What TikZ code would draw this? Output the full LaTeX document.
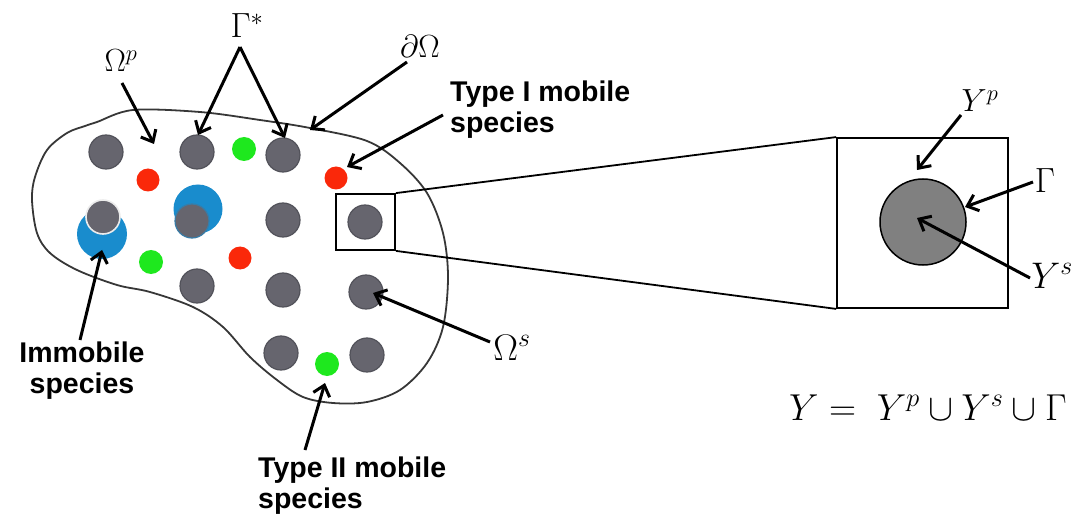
\RequirePackage{fix-cm}
\documentclass[tikz,border=0pt]{standalone}
\usepackage{fontspec}
\setsansfont{Liberation Sans}
\usetikzlibrary{arrows.meta}
\definecolor{dotgray}{RGB}{102,101,110}
\definecolor{dotedge}{RGB}{82,82,90}
\definecolor{dotred}{RGB}{250,40,10}
\definecolor{dotgreen}{RGB}{30,232,30}
\definecolor{dotblue}{RGB}{25,140,205}
\definecolor{blobline}{RGB}{55,55,55}
\definecolor{cellgray}{RGB}{128,128,128}
\begin{document}
\begin{tikzpicture}[x=1pt,y=-1pt,
  pore/.style={circle,fill=dotgray,draw=dotedge,line width=1.2pt,minimum size=34pt,inner sep=0pt},
  redsp/.style={circle,fill=dotred,minimum size=23pt,inner sep=0pt},
  greensp/.style={circle,fill=dotgreen,minimum size=24pt,inner sep=0pt},
  bluesp/.style={circle,fill=dotblue,minimum size=50pt,inner sep=0pt},
  lbl/.style={font=\sffamily\bfseries\fontsize{28.5}{31}\selectfont,inner sep=0pt},
  mlbl/.style={font=\fontsize{32}{36}\selectfont,inner sep=0pt,anchor=base},
  mbig/.style={mlbl,font=\fontsize{35}{39}\selectfont},
  mhuge/.style={mlbl,font=\fontsize{37}{41}\selectfont},
  arr/.style={line width=3pt,-{Straight Barb[length=10pt,width=17pt,line width=3pt]}},
  frame/.style={draw,line width=1.8pt,inner sep=0pt}]
\useasboundingbox (0,0) rectangle (1086,521);
% domain outline
\draw[blobline,line width=1.8pt] plot[smooth cycle,tension=0.55] coordinates {
 (97,122) (133,110) (200,112) (260,120) (310,128) (367,141) (400,163) (427,193)
 (443,233) (448,277) (443,327) (427,363) (400,390) (367,402) (333,403) (303,397)
 (277,380) (250,357) (223,327) (193,307) (150,292) (117,285) (77,270) (50,253)
 (37,233) (32,200) (35,177) (47,150) (67,133) (85,126)};
% immobile species
\node[bluesp] (b1) at (102,234) {};
\node[pore,draw=white!85!gray,line width=1.6pt] (p21) at (103,217) {};
\node[bluesp,minimum size=49pt] (b2) at (198,209) {};
\node[pore,draw=dotblue!60!dotgray] (p22) at (192,221) {};
% pores
\node[pore] (p11) at (106,152) {};
\node[pore] (p12) at (197,152) {};
\node[pore] (p13) at (283,155) {};
\node[pore] (p23) at (283,220) {};
\node[pore] (p24) at (365,222) {};
\node[pore] (p31) at (197,286) {};
\node[pore] (p32) at (283,290) {};
\node[pore] (p33) at (366,292) {};
\node[pore] (p41) at (281,353) {};
\node[pore] (p42) at (367,355) {};
% mobile species
\node[redsp] (r1) at (148,180) {};
\node[redsp] (r2) at (336,178) {};
\node[redsp] (r3) at (240,258) {};
\node[greensp] (g1) at (244,149) {};
\node[greensp] (g2) at (151,262) {};
\node[greensp] (g3) at (327,364) {};
% zoom boxes
\node[frame,minimum width=59pt,minimum height=56pt] (sbox) at (365.5,222) {};
\node[frame,minimum width=171pt,minimum height=170pt] (bbox) at (922.5,223) {};
\node[circle,fill=cellgray,draw=black,line width=1.5pt,minimum size=86pt,inner sep=0pt] (cell) at (923,222) {};
\draw[line width=1.8pt] (sbox.north east) -- (bbox.north west);
\draw[line width=1.8pt] (sbox.south east) -- (bbox.south west);
% labels
\node[mlbl] (lOp) at (121,72) {$\Omega^p$};
\node[mbig] (lGs) at (247,38) {$\Gamma^*$};
\node[mlbl] (ldO) at (420,58) {$\partial\Omega$};
\node[mhuge] (lOs) at (512,360) {$\Omega^s$};
\node[mlbl] (lYp) at (980,112) {$Y^p$};
\node[mbig] (lG) at (1045,193) {$\Gamma$};
\node[mhuge] (lYs) at (1052,288) {$Y^s$};
\node[mlbl,font=\fontsize{37.5}{42}\selectfont] (eq) at (928,420) {$Y =\; Y^p\cup Y^s\cup\Gamma$};
\node[lbl,align=left,anchor=north west] (tI) at (450,81) {Type I mobile\\species};
\node[lbl,align=center,anchor=north] (tim) at (82,342) {Immobile\\species};
\node[lbl,align=left,anchor=north west] (tII) at (258,457) {Type II mobile\\species};
% arrow ends
\coordinate (aOp) at (122,83);   \coordinate (hOp) at (154,144);
\coordinate (aGs) at (240,47);   \coordinate (hG1) at (198,135); \coordinate (hG2) at (285,138);
\coordinate (adO) at (407,62);   \coordinate (hdO) at (310,130);
\coordinate (aI) at (443,115);   \coordinate (hI) at (347,167);
\coordinate (aim) at (80,340);   \coordinate (him) at (102,250);
\coordinate (aII) at (305,450);  \coordinate (hII) at (325,383);
\coordinate (aOs) at (490,342);  \coordinate (hOs) at (373,293);
\coordinate (aYp) at (961,115);  \coordinate (hYp) at (917,170);
\coordinate (aG) at (1033,182);  \coordinate (hG) at (965,207);
\coordinate (aYs) at (1030,278); \coordinate (hYs) at (917,218);
\draw[arr] (aOp) -- (hOp);
\draw[arr] (aGs) -- (hG1);
\draw[arr] (aGs) -- (hG2);
\draw[arr] (adO) -- (hdO);
\draw[arr] (aI) -- (hI);
\draw[arr] (aim) -- (him);
\draw[arr] (aII) -- (hII);
\draw[arr] (aOs) -- (hOs);
\draw[arr] (aYp) -- (hYp);
\draw[arr] (aG) -- (hG);
\draw[arr] (aYs) -- (hYs);
\end{tikzpicture}
\end{document}
